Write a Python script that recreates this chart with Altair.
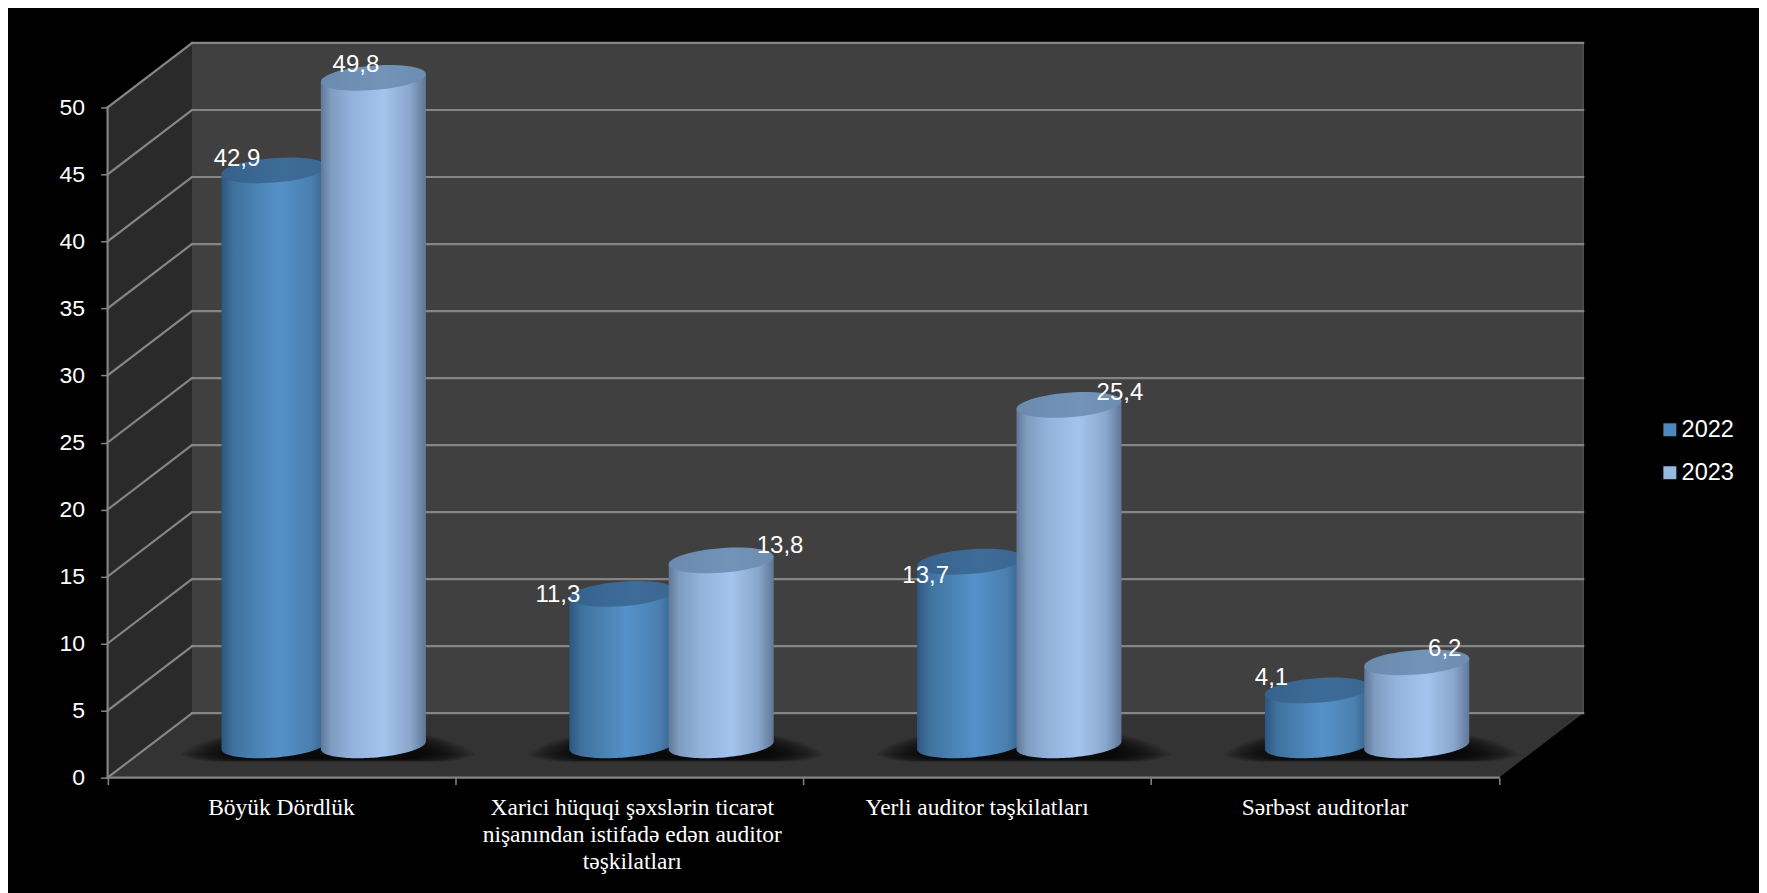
import altair as alt
import numpy as np
import pandas as pd

# ---- values
categories = ["Böyük Dördlük",
              "Xarici hüquqi şəxslərin ticarət\nnişanından istifadə edən auditor\ntəşkilatları",
              "Yerli auditor təşkilatları",
              "Sərbəst auditorlar"]
series = ["2022", "2023"]
values_2022 = [42.9, 11.3, 13.7, 4.1]
values_2023 = [49.8, 13.8, 25.4, 6.2]
labels_2022 = ["42,9", "11,3", "13,7", "4,1"]
labels_2023 = ["49,8", "13,8", "25,4", "6,2"]
y_ticks = list(range(0, 55, 5))
x_ticks = [0, 1, 2, 3, 4]

# ---- layout (pixels of the drawing, turned into scale units)
W, H = 1753, 885
PX_U, PX_V = 348.2, 13.42            # pixels per category / per value unit
LEFT, BOTTOM = 99.7, 115             # front corner of the box, from the left / bottom
U, V = 1 / PX_U, 1 / PX_V
DU, DV = 84.5 * U, 64.5 * V          # 3-D depth of the box
A, B, T = 52.7, 12.2, np.radians(4.5)
GAP = 49.75
LABEL_DX = {"2022": [-37, -64, -44, -46], "2023": [-17.5, 59, 51, 28]}
LABEL_DY = {"2022": [-11, 1, 14, -12.5], "2023": [-13, -14, -12, -13]}

xscale = alt.Scale(domain=[-LEFT * U, (W - LEFT) * U], nice=False, zero=False)
yscale = alt.Scale(domain=[-BOTTOM * V, (H - BOTTOM) * V], nice=False, zero=False)
GRID = "#858585"
FONT = "Liberation Sans"


def X(f="x", **k):
    return alt.X(f"{f}:Q", scale=xscale, title=None, **k)


def Y(f="y", **k):
    return alt.Y(f"{f}:Q", scale=yscale, title=None, **k)


def grad(stops):
    return alt.Gradient(gradient="linear", x1=0, x2=1, y1=0, y2=0,
                        stops=[alt.GradientStop(offset=o, color=c) for o, c in stops])


# axes: real axes moved onto the corner of the box
axes = alt.Chart(pd.DataFrame({"x": [0.0], "y": [0.0]})).mark_point(opacity=0).encode(
    x=alt.X("x:Q", scale=xscale, title=None,
            axis=alt.Axis(values=x_ticks, labels=False, domain=False, grid=False, offset=-BOTTOM,
                          tickColor=GRID, tickSize=7, tickWidth=1.5)),
    y=alt.Y("y:Q", scale=yscale, title=None,
            axis=alt.Axis(values=y_ticks, domain=False, grid=False, offset=-LEFT,
                          tickColor=GRID, tickSize=7, tickWidth=1.5, labelColor="white",
                          labelFont=FONT, labelFontSize=23, labelPadding=16)),
)

side = alt.Chart(pd.DataFrame({"x": [0, DU], "y": [0, DV], "y2": [50, 50 + DV]})).mark_area(
    color="#2a2a2a").encode(x=X(), y=Y(), y2="y2:Q")
back = alt.Chart(pd.DataFrame({"x": [DU], "x2": [4 + DU], "y": [DV], "y2": [50 + DV]})).mark_rect(
    color="#404040").encode(x=X(), x2="x2:Q", y=Y(), y2="y2:Q")
floor = alt.Chart(pd.DataFrame({"x": [0, DU], "x2": [4, 4 + DU], "y": [0, DV]})).mark_area(
    color="#333333", orient="horizontal").encode(x=X(), x2="x2:Q", y=Y())
seam = alt.Chart(pd.DataFrame({"x": [4 + DU], "y": [DV], "y2": [50 + DV]})).mark_rule(
    color="#505050", strokeWidth=1.5).encode(x=X(), y=Y(), y2="y2:Q")

rows = []
for v in y_ticks:
    rows += [{"id": f"d{v}", "o": 0, "x": 0, "y": v}, {"id": f"d{v}", "o": 1, "x": DU, "y": v + DV},
             {"id": f"b{v}", "o": 0, "x": DU, "y": v + DV}, {"id": f"b{v}", "o": 1, "x": 4 + DU, "y": v + DV}]
rows += [{"id": "fy", "o": 0, "x": 0, "y": 0}, {"id": "fy", "o": 1, "x": 0, "y": 50},
         {"id": "fx", "o": 0, "x": 0, "y": 0}, {"id": "fx", "o": 1, "x": 4, "y": 0}]
grid = alt.Chart(pd.DataFrame(rows)).mark_line(color=GRID, strokeWidth=2.2, strokeCap="square").encode(
    x=X(), y=Y(), detail="id:N", order="o:Q")

# soft contact shadows on the floor
SHADOW = ("M-1,0.01C-0.85,-0.12 -0.5,-0.17 0,-0.17C0.5,-0.17 0.85,-0.12 1,0.01"
          "C0.9,0.058 0.8,0.058 0.7,0.058L-0.7,0.058C-0.8,0.058 -0.9,0.058 -1,0.01Z")
shadow_rows = [{"x": i + 0.5 + DU / 2 + 4 * U, "y": 24.5 * V, "s": s}
               for i in range(4)
               for s in [1.0, 0.97, 0.94, 0.91, 0.88, 0.85, 0.82, 0.79, 0.76, 0.73, 0.70, 0.67]]
shadows = alt.Chart(pd.DataFrame(shadow_rows)).mark_point(
    shape=SHADOW, filled=True, color="black", opacity=0.115, strokeWidth=0).encode(
    x=X(), y=Y(), size=alt.Size("s2:Q", scale=None, legend=None)
).transform_calculate(s2="pow(295*datum.s,2)")

# cylinders
px0 = np.arctan(-(B / A) * np.tan(T))
ps = np.linspace(px0, px0 - np.pi, 61)
arc_x = A * np.cos(ps) * np.cos(T) - B * np.sin(ps) * np.sin(T)
arc_y = A * np.cos(ps) * np.sin(T) + B * np.sin(ps) * np.cos(T)
slope = arc_y[0] / arc_x[0]
c, s = np.cos(T), np.sin(T)
r = B / A
deg = np.degrees(T)
ELLIPSE = (f"M{-c:.4f},{s:.4f}A1,{r:.4f} {-deg:.2f} 1 1 {c:.4f},{-s:.4f}"
           f"A1,{r:.4f} {-deg:.2f} 1 1 {-c:.4f},{s:.4f}Z")

BODY = {
    "2022": [(0, "#2d5680"), (0.12, "#3f739f"), (0.55, "#5592c9"), (0.85, "#4a80b0"), (1, "#35618c")],
    "2023": [(0, "#60799a"), (0.1, "#7f9cc1"), (0.3, "#93b3dc"), (0.6, "#a3c4ee"), (0.85, "#8aa7cd"), (1, "#5f7898")],
}
TOP = {
    "2022": [(0, "#35628d"), (0.6, "#3e6c98"), (1, "#3a6792")],
    "2023": [(0, "#6a8aae"), (0.6, "#7393b8"), (1, "#6d8cb0")],
}
VALS = {"2022": values_2022, "2023": values_2023}
TXT = {"2022": labels_2022, "2023": labels_2023}

cyl_layers = []
label_rows = []
for name, sign in zip(series, [-1, 1]):
    body_rows, top_rows = [], []
    for i, val in enumerate(VALS[name]):
        cu = i + 0.5 + DU / 2 + sign * GAP * U
        vt = val + DV / 2
        vb = DV / 2
        top_rows.append({"x": cu, "y": vt})
        for ax, ay in zip(arc_x, arc_y):
            body_rows.append({"id": i, "x": cu + ax * U, "y": vt + slope * ax * V, "y2": vb + ay * V})
        label_rows.append({"x": cu + LABEL_DX[name][i] * U, "y": vt - LABEL_DY[name][i] * V,
                           "t": TXT[name][i]})
    cyl_layers.append(
        alt.Chart(pd.DataFrame(body_rows)).mark_area(fill=grad(BODY[name]), line=False, interpolate="linear").encode(
            x=X(), y=Y(), y2="y2:Q", detail="id:N"))
    cyl_layers.append(
        alt.Chart(pd.DataFrame(top_rows)).mark_point(
            shape=ELLIPSE, filled=True, fill=grad(TOP[name]), opacity=1, size=(2 * A) ** 2, strokeWidth=0
        ).encode(x=X(), y=Y()))

value_text = alt.Chart(pd.DataFrame(label_rows)).mark_text(
    color="white", font=FONT, fontSize=24).encode(x=X(), y=Y(), text="t:N")

cat_text = alt.Chart(pd.DataFrame({
    "x": [i + 0.5 + (3 * U if i == 1 else 0) for i in range(4)],
    "y": [-18 * V] * 4,
    "t": categories,
})).mark_text(color="white", font="Liberation Serif", fontSize=23.5, baseline="top",
              lineBreak="\n", lineHeight=27).encode(x=X(), y=Y(), text="t:N")

legend = alt.Chart(pd.DataFrame({"Series": series, "x": [0.0, 0.0], "y": [0.0, 0.0]})).mark_square(
    size=0, opacity=1).encode(
    x=X(), y=Y(),
    color=alt.Color("Series:N", scale=alt.Scale(domain=series, range=["#4f88bd", "#97b8e2"]),
                    legend=alt.Legend(title=None, orient="none", legendX=1652, legendY=410,
                                      symbolType="square", symbolSize=169, symbolStrokeWidth=0,
                                      labelColor="white", labelFont=FONT, labelFontSize=23.5,
                                      rowPadding=18, labelOffset=0, padding=0)))

chart = alt.layer(axes, side, back, floor, seam, grid, shadows, *cyl_layers, value_text, cat_text, legend).properties(
    width=W, height=H, padding=0, background="black",
    autosize=alt.AutoSizeParams(type="none"),
).configure_view(stroke=None)

chart.save("out.html", embed_options={"renderer": "svg", "actions": False})
